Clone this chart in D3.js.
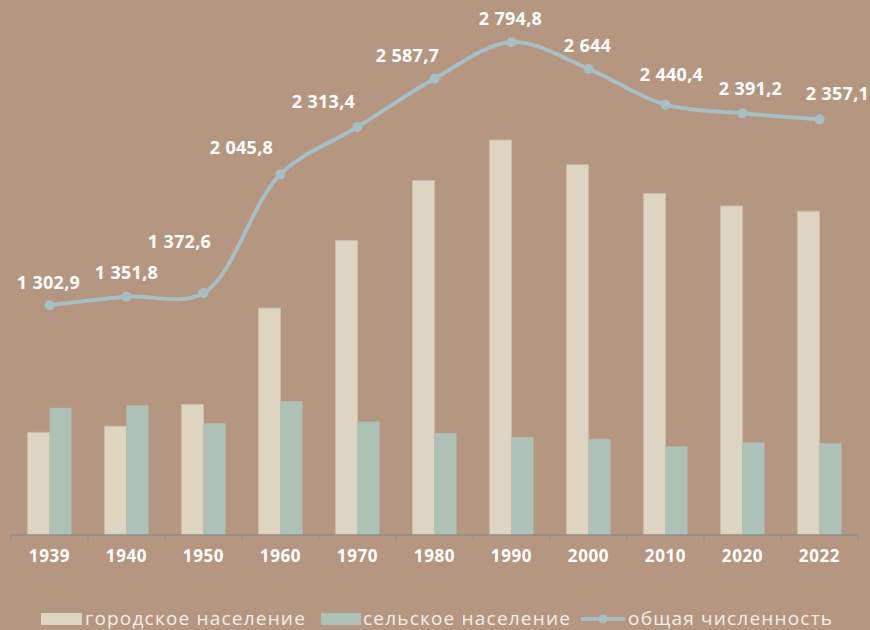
<html>
<head>
    <meta charset="utf-8">
    <title>Население</title>
    <script src="https://cdnjs.cloudflare.com/ajax/libs/d3/7.8.5/d3.min.js"></script>
    <style>
        body { margin: 0; background: #b59681; }
        svg { display: block; }
        .lbl { font-family: "Open Sans", sans-serif; font-weight: 700; fill: #ffffff; }
    </style>
</head>
<body>
    <svg width="870" height="630"></svg>
    <script>
        // годы переписи
        var years = ["1939", "1940", "1950", "1960", "1970", "1980", "1990", "2000", "2010", "2020", "2022"];
        // городское население
        var urban = [582, 617, 740, 1287, 1670, 2010, 2240, 2100, 1937, 1866, 1836];
        // сельское население
        var rural = [721, 735, 633, 759, 643, 578, 555, 544, 503, 525, 521];
        // общая численность
        var total = [1302.9, 1351.8, 1372.6, 2045.8, 2313.4, 2587.7, 2794.8, 2644, 2440.4, 2391.2, 2357.1];
        var totalText = ["1 302,9", "1 351,8", "1 372,6", "2 045,8", "2 313,4", "2 587,7", "2 794,8", "2 644", "2 440,4", "2 391,2", "2 357,1"];
        // сдвиг подписей относительно точек
        var labelDx = [-1, 0, -24, -39, -34, -27, -1, -1, 6, 8, 18];
        var labelDy = [-16, -18, -45, -20, -19, -17, -17, -17, -24, -18, -19];

        var svg = d3.select("svg");

        var x0 = d3.scaleBand().domain(years).range([11, 858]);
        var x1 = d3.scaleBand().domain(["urban", "rural"])
                    .range([0, x0.bandwidth()])
                    .paddingOuter(0.75);
        var y = d3.scaleLinear().domain([0, 3000]).range([535, 6]);

        var groups = svg.selectAll("g.year").data(years)
            .enter()
            .append("g")
            .attr("class", "year")
            .attr("transform", d => "translate(" + x0(d) + ",0)");

        groups.append("rect")
            .attr("x", x1("urban"))
            .attr("width", x1.bandwidth())
            .attr("y", (d, i) => y(urban[i]))
            .attr("height", (d, i) => y(0) - y(urban[i]))
            .style("fill", "#ddd5c2")
            .style("stroke", "#cdbba4")
            .style("stroke-width", 1);

        groups.append("rect")
            .attr("x", x1("rural"))
            .attr("width", x1.bandwidth())
            .attr("y", (d, i) => y(rural[i]))
            .attr("height", (d, i) => y(0) - y(rural[i]))
            .style("fill", "#aec1b6");

        // ось x
        var axis = svg.append("g")
            .attr("transform", "translate(0," + y(0) + ")");
        axis.append("line")
            .attr("x1", 11).attr("x2", 858)
            .style("stroke", "#8f8d8a").style("stroke-width", 1.5);
        axis.selectAll("line.tick").data(years.concat(["end"]))
            .enter()
            .append("line")
            .attr("class", "tick")
            .attr("x1", (d, i) => 11 + i * x0.step())
            .attr("x2", (d, i) => 11 + i * x0.step())
            .attr("y1", 0).attr("y2", 6)
            .style("stroke", "#8f8d8a").style("stroke-width", 1);
        axis.selectAll("text").data(years)
            .enter()
            .append("text")
            .attr("class", "lbl")
            .attr("x", d => x0(d) + x0.bandwidth() / 2)
            .attr("y", 27)
            .attr("text-anchor", "middle")
            .style("font-size", "17px")
            .style("letter-spacing", "0.6px")
            .text(d => d);

        // линия общей численности
        var line = d3.line()
            .x((d, i) => x0(years[i]) + x0.bandwidth() / 2)
            .y(d => y(d))
            .curve(d3.curveCatmullRom);

        svg.append("path")
            .datum(total)
            .attr("d", line)
            .style("fill", "none")
            .style("stroke", "#a6bec4")
            .style("stroke-width", 4);

        svg.selectAll("circle.pt").data(total)
            .enter()
            .append("circle")
            .attr("class", "pt")
            .attr("r", 5)
            .attr("cx", (d, i) => x0(years[i]) + x0.bandwidth() / 2)
            .attr("cy", d => y(d))
            .style("fill", "#a6bec4");

        svg.selectAll("text.val").data(total)
            .enter()
            .append("text")
            .attr("class", "lbl val")
            .attr("x", (d, i) => x0(years[i]) + x0.bandwidth() / 2 + labelDx[i])
            .attr("y", (d, i) => y(d) + labelDy[i])
            .attr("text-anchor", "middle")
            .style("font-size", "18px")
            .style("letter-spacing", "0.3px")
            .text((d, i) => totalText[i]);

        // легенда
        var legend = svg.append("g").attr("transform", "translate(0,618)");
        legend.append("rect").attr("x", 41).attr("y", -5).attr("width", 41).attr("height", 12).style("fill", "#ddd5c2");
        legend.append("rect").attr("x", 321).attr("y", -5).attr("width", 40).attr("height", 12).style("fill", "#aec1b6");
        legend.append("line").attr("x1", 581).attr("x2", 625).attr("y1", 1).attr("y2", 1)
            .style("stroke", "#a6bec4").style("stroke-width", 4);
        legend.append("circle").attr("cx", 603).attr("cy", 1).attr("r", 4.5).style("fill", "#a6bec4");

        var legendText = [["городское население", 85], ["сельское население", 363], ["общая численность", 628]];
        legend.selectAll("text").data(legendText)
            .enter()
            .append("text")
            .attr("x", d => d[1])
            .attr("y", 7)
            .style("font-family", "'Open Sans', sans-serif")
            .style("font-size", "19px")
            .style("letter-spacing", "1.2px")
            .style("fill", "#f3eee8")
            .text(d => d[0]);
    </script>
</body>
</html>
